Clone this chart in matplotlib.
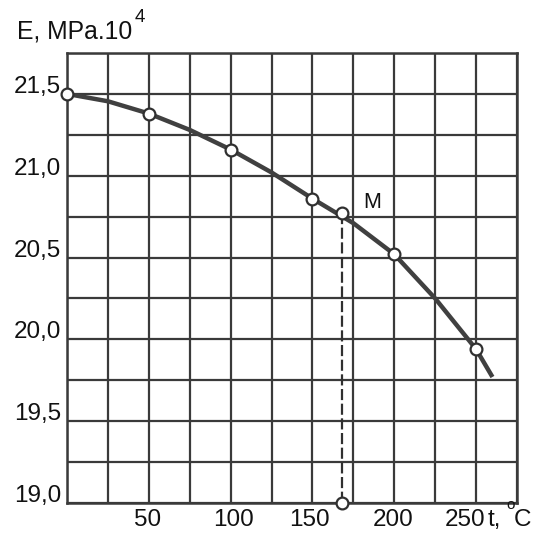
import matplotlib
matplotlib.use("Agg")
import matplotlib.pyplot as plt
import matplotlib.transforms as mtransforms

# data
t_points = [0, 50, 100, 150, 200, 250]
E_points = [21.5, 21.38, 21.16, 20.86, 20.52, 19.94]
t_curve = [0, 25, 50, 75, 100, 125, 150, 175, 200, 225, 250, 260]
E_curve = [21.5, 21.455, 21.38, 21.28, 21.16, 21.02, 20.86, 20.71, 20.52, 20.25, 19.94, 19.77]
t_M = 168
E_M = 20.77
x_grid = [0, 25, 50, 75, 100, 125, 150, 175, 200, 225, 250, 275]
y_grid = [19.0, 19.25, 19.5, 19.75, 20.0, 20.25, 20.5, 20.75, 21.0, 21.25, 21.5, 21.75]
x_tick_vals = [50, 100, 150, 200, 250]
x_tick_labels = ["50", "100", "150", "200", "250"]
y_tick_vals = [19.0, 19.5, 20.0, 20.5, 21.0, 21.5]
y_tick_labels = ["19,0", "19,5", "20,0", "20,5", "21,0", "21,5"]

plt.rcParams['font.family'] = ['Liberation Sans', 'DejaVu Sans']
W, H = 534, 533
fig = plt.figure(figsize=(W / 100, H / 100), dpi=100)
ax = fig.add_axes([67 / W, (H - 503) / H, 450 / W, 450 / H])
ax.set_xlim(0, 275)
ax.set_ylim(19.0, 21.75)

gc = '#3a3a3a'
ax.set_xticks(x_grid)
ax.set_yticks(y_grid)
ax.grid(True, color=gc, lw=1.6)
ax.tick_params(length=0, labelbottom=False, labelleft=False)
for s in ax.spines.values():
    s.set_color(gc)
    s.set_linewidth(1.8)

ax.plot(t_curve, E_curve, color='#404040', lw=3.2, solid_capstyle='butt',
        solid_joinstyle='round', zorder=3)
ax.plot(t_points, E_points, 'o', ms=8.5, mfc='white', mec='#303030', mew=1.6, zorder=4,
        clip_on=False)
ax.plot([t_M, t_M], [E_M, 19.0], color='#303030', lw=1.6, ls=(0, (5, 1.6)), zorder=3)
ax.plot([t_M, t_M], [E_M, 19.0], 'o', ms=8.5, mfc='white', mec='#303030', mew=1.6,
        zorder=5, clip_on=False)
m_off = mtransforms.offset_copy(ax.transData, fig=fig, x=30, y=11, units='dots')
ax.text(t_M, E_M, "M", transform=m_off, fontsize=15.5, color='#111111',
        ha='center', va='center')

fs = 17.5
txt = '#111111'
off_up = mtransforms.offset_copy(ax.get_yaxis_transform(), fig=fig, x=-6, y=7, units='dots')
for v, lab in zip(y_tick_vals, y_tick_labels):
    ax.text(0, v, lab, transform=off_up, ha='right', va='center', fontsize=fs, color=txt)

xlab_pos = [49, 102, 148, 199, 243]
for p, lab in zip(xlab_pos, x_tick_labels):
    ax.text(p, 0, lab, transform=mtransforms.offset_copy(ax.get_xaxis_transform(), fig=fig,
            x=0, y=-17, units='dots'), ha='center', va='center', fontsize=fs, color=txt)
fig.text(488 / W, 1 - 520 / H, "t,", fontsize=fs, color=txt, ha='left', va='center')
fig.text(506 / W, 1 - 509 / H, "o", fontsize=11, color=txt, ha='left', va='baseline')
fig.text(514 / W, 1 - 520 / H, "C", fontsize=fs, color=txt, ha='left', va='center')

fig.text(17 / W, 1 - 31 / H, "E, MPa.10", fontsize=17.8, color=txt, ha='left', va='center')
fig.text(135 / W, 1 - 18 / H, "4", fontsize=13.5, color=txt, ha='left', va='center')

fig.savefig("out.png", dpi=100, facecolor='white')
